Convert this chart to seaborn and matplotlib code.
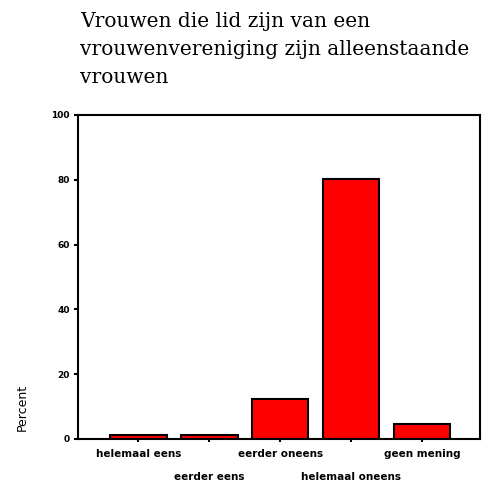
import matplotlib
matplotlib.use("Agg")
import matplotlib.pyplot as plt
import seaborn as sns
import pandas as pd

# Data
categories = ["helemaal eens", "eerder eens", "eerder oneens", "helemaal oneens", "geen mening"]
percent = [1.3, 1.3, 12.5, 80.2, 4.6]
yticks = [0, 20, 40, 60, 80, 100]
title = "Vrouwen die lid zijn van een\nvrouwenvereniging zijn alleenstaande\nvrouwen"

df = pd.DataFrame({"Category": categories, "Percent": percent})

sns.set_style("ticks")
plt.rcParams["font.family"] = ["DejaVu Sans"]

fig = plt.figure(figsize=(4.84, 4.83), dpi=100)
ax = fig.add_axes([78 / 484, 1 - 439 / 483, (480 - 78) / 484, (439 - 115) / 483])

sns.barplot(data=df, x="Category", y="Percent", color="#ff0000", saturation=1,
            edgecolor="black", linewidth=1.5, width=0.8, ax=ax)

ax.set_ylim(0, 100)
ax.set_xlim(-0.85, 4.82)
ax.set_yticks(yticks)
ax.set_yticklabels([str(t) for t in yticks], fontsize=6.5, fontweight="bold")
ax.set_xticks(range(len(categories)))
ax.set_xticklabels(categories, fontsize=7.5, fontweight="bold")
# staggered tick labels, every second one on a lower row
for i, lab in enumerate(ax.get_xticklabels()):
    if i % 2 == 1:
        lab.set_y(-0.073)
ax.tick_params(axis="both", colors="black", labelcolor="black")
ax.tick_params(axis="y", length=3, width=1.5, pad=3)
ax.tick_params(axis="x", length=2, width=1.5, pad=5)
for s in ax.spines.values():
    s.set_linewidth(1.5)
    s.set_color("black")

ax.set_xlabel("")
ax.set_ylabel("")
fig.text(22 / 484, 1 - 407 / 483, "Percent", rotation=90, ha="center", va="center",
         fontsize=9, color="black")

fig.text(80 / 484, 1 - 12 / 483, title, ha="left", va="top", fontsize=14.5, color="black",
         family=["DejaVu Serif"], linespacing=1.6)

fig.savefig("out.png", dpi=100)
